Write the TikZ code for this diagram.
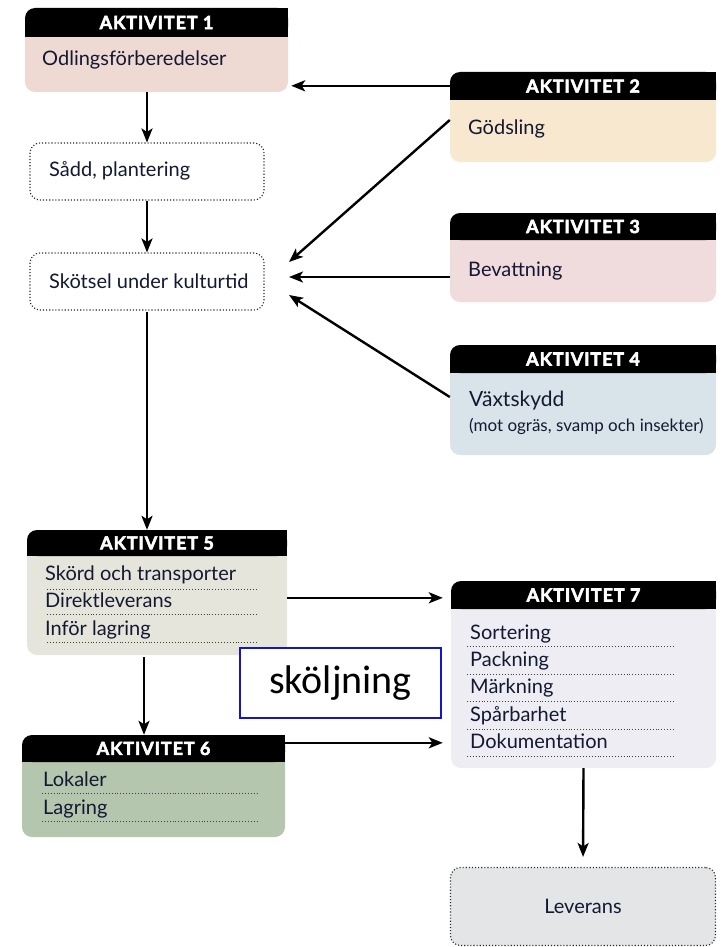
\documentclass[tikz,border=0pt]{standalone}
\usepackage{fontspec}
\setmainfont{Lato}
\newfontfamily\calfont{Carlito}
\newfontfamily\hdrfont[FakeBold=3,LetterSpace=5]{Lato Bold}
\usetikzlibrary{arrows.meta,fit}
\definecolor{txt}{RGB}{20,25,50}
\definecolor{c1}{HTML}{EFD9D3}
\definecolor{c2}{HTML}{F7E8CF}
\definecolor{c3}{HTML}{F0DCDD}
\definecolor{c4}{HTML}{D8E3EA}
\definecolor{c5}{HTML}{E6E5DB}
\definecolor{c6}{HTML}{B5C6AF}
\definecolor{c7}{HTML}{EDEDF3}
\definecolor{c8}{HTML}{E4E5E6}
\definecolor{boxblue}{RGB}{20,20,200}
\tikzset{
 arr/.style={line width=2.4pt, -{Stealth[length=14pt,width=11pt,inset=3.5pt]}},
 hdr/.style={text=white, inner sep=0pt, font=\hdrfont\fontsize{18}{18}\selectfont},
 itm/.style={anchor=base west, text=txt, inner sep=0pt, font=\fontsize{20}{20}\selectfont},
 lbl/.style={anchor=base west, text=txt, inner sep=0pt, font=\fontsize{20}{20}\selectfont},
 sml/.style={anchor=base west, text=txt, inner sep=0pt, font=\fontsize{17}{17}\selectfont},
 sepline/.style={dotted, line width=0.9pt, black!75},
 dotbox/.style={draw=black!85, dotted, line width=1.1pt, rounded corners=10pt},
}
\newcommand\actbox[8]{%
 \fill[#7, rounded corners=10pt] (#2,#3+6) rectangle (#4,#5);
 \fill[black, rounded corners=10pt] (#2,#3) rectangle (#4,#6);
 \fill[black] (#2,#3+10) rectangle (#4,#6);
 \fill[black] (#2+10,#3) rectangle (#4,#6);
 \coordinate (#1-nw) at (#2,#3);
 \coordinate (#1-se) at (#4,#5);
 \node[fit=(#1-nw)(#1-se), inner sep=0pt] (#1) {};
 \node[hdr] (#1-t) at ({(#2+#4)/2},{(#3+#6)/2}) {#8};
}
\begin{document}
\begin{tikzpicture}[x=1pt,y=-1pt]
\useasboundingbox (0,0) rectangle (723,947);
% activity boxes
\actbox{a1}{25}{8}{288}{92}{37}{c1}{AKTIVITET 1}
\actbox{a2}{450}{72}{716}{162}{100}{c2}{AKTIVITET 2}
\actbox{a3}{450}{213}{716}{302}{240}{c3}{AKTIVITET 3}
\actbox{a4}{450}{345}{716}{455}{373}{c4}{AKTIVITET 4}
\actbox{a5}{27}{530}{287}{655}{556}{c5}{AKTIVITET 5}
\actbox{a6}{22}{735}{285}{837}{762}{c6}{AKTIVITET 6}
\actbox{a7}{451}{581}{716}{768}{609}{c7}{AKTIVITET 7}
% dotted boxes
\node[dotbox, fill=white, minimum width=234pt, minimum height=57pt] (sadd) at (147,171.5) {};
\node[dotbox, fill=white, minimum width=234pt, minimum height=57pt] (skot) at (147,281.5) {};
\node[dotbox, fill=c8, minimum width=265pt, minimum height=78pt] (lev) at (583,906.5) {};
% texts
\node[lbl] (t1) at (42,66) {Odlingsförberedelser};
\node[lbl] (t2) at (468,135) {Gödsling};
\node[lbl] (ts) at (49,176) {Sådd, plantering};
\node[lbl] (tk) at (49,288) {Skötsel under kulturtid};
\node[lbl] (t3) at (468,276) {Bevattning};
\node[lbl, font=\fontsize{21}{21}\selectfont] (t4) at (469,406) {Växtskydd};
\node[sml] (t4b) at (469,431) {(mot ogräs, svamp och insekter)};
\node[itm] (t5a) at (45,580) {Skörd och transporter};
\node[itm] (t5b) at (45,607) {Direktleverans};
\node[itm] (t5c) at (45,635) {Inför lagring};
\foreach \yy in {589,614,642} \draw[sepline] (47,\yy) -- (258,\yy);
\node[itm] (t6a) at (43,786) {Lokaler};
\node[itm] (t6b) at (43,814) {Lagring};
\draw[sepline] (42,793) -- (258,793);
\draw[sepline] (42,821) -- (258,821);
\node[itm] (t7a) at (470,639) {Sortering};
\node[itm] (t7b) at (470,666) {Packning};
\node[itm] (t7c) at (470,693) {Märkning};
\node[itm] (t7d) at (470,721) {Spårbarhet};
\node[itm] (t7e) at (470,748) {Dokumentation};
\foreach \yy in {646,674,701,729,756} \draw[sepline] (467,\yy) -- (673,\yy);
\node[text=txt, font=\fontsize{20}{20}\selectfont] (tl) at (583,906) {Leverans};
% sköljning
\node[draw=boxblue, line width=1.3pt, fill=white, minimum width=201pt, minimum height=70pt, inner sep=0pt,
  font=\calfont\fontsize{40}{40}\selectfont] (skol) at (340.5,683) {sköljning};
% connectors
\draw[arr] (a1.south -| sadd.north) -- (sadd.north);
\draw[arr] (sadd.south) -- (skot.north);
\draw[arr] ([yshift=-1pt]skot.south) -- (skot.south |- a5.north);
\coordinate (p2) at ([yshift=-14pt]a2.north west);
\draw[arr, shorten >=3pt] (p2) -- (p2 -| a1.east);
\coordinate (in1) at (289,262);
\coordinate (in2) at (289,277);
\coordinate (in3) at (289,295);
\draw[arr] ([yshift=-3pt]a2.west) -- (in1);
\draw[arr] (in2 -| a3.west) -- (in2);
\draw[arr] ([yshift=3pt]a4.west) -- (in3);
\draw[arr] ([yshift=-68pt]a5.north east) coordinate (q1) -- ([xshift=-8pt]q1 -| a7.west);
\coordinate (q2) at ([yshift=-8pt]a6.north east);
\draw[arr, shorten >=8pt] (q2) -- (q2 -| a7.west);
\coordinate (q3) at ([xshift=-13pt]a5.south);
\draw[arr] ([yshift=-2pt]q3) -- (q3 |- a6.north);
\draw[arr, shorten >=10pt] (a7.south) -- (lev.north);
\end{tikzpicture}
\end{document}
